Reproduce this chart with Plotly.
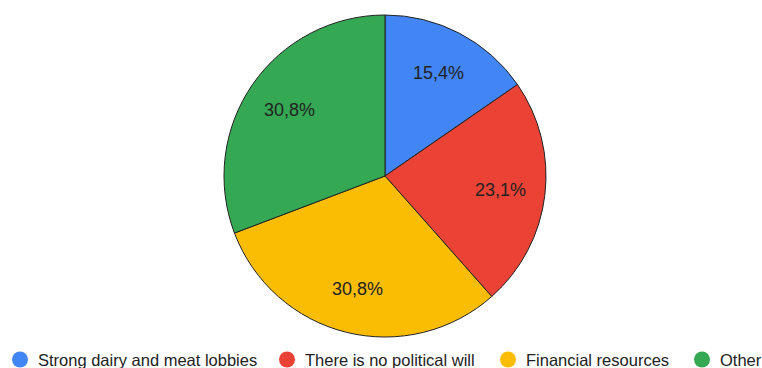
import math
import plotly.graph_objects as go

categories = ["Strong dairy and meat lobbies", "There is no political will",
              "Financial resources", "Other"]
counts = [2, 3, 4, 4]
colors = ["#4285F4", "#EA4335", "#FBBC04", "#34A853"]

W, H = 762, 368
FONT = "Liberation Sans, Arial, sans-serif"
TEXT = "#222222"

# Pie geometry in pixels
CX, CY, R = 385, 176, 161
LABEL_R = 0.72 * R

fig = go.Figure()
fig.add_trace(go.Pie(
    labels=categories,
    values=counts,
    sort=False,
    direction="clockwise",
    rotation=0,
    marker=dict(colors=colors, line=dict(color="#222222", width=1)),
    textinfo="none",
    domain=dict(x=[(CX - R) / W, (CX + R) / W], y=[1 - (CY + R) / H, 1 - (CY - R) / H]),
    showlegend=False,
    hoverinfo="label+percent",
))

# Percentage labels placed at each slice's mid-angle
total = sum(counts)
start = 0.0
for v in counts:
    frac = v / total
    mid = (start + frac / 2) * 2 * math.pi
    start += frac
    px = CX + LABEL_R * math.sin(mid)
    py = CY - LABEL_R * math.cos(mid)
    label = f"{frac * 100:.1f}".replace(".", ",") + "%"
    fig.add_annotation(x=px / W, y=1 - py / H, xref="paper", yref="paper",
                       text=label, showarrow=False, xanchor="center", yanchor="middle",
                       font=dict(family=FONT, size=18, color=TEXT))

# Legend row along the bottom: circle swatch followed by the category name
legend_x = [20, 287, 508, 702]
legend_py = 359.5
for cx, name, col in zip(legend_x, categories, colors):
    fig.add_shape(type="circle", xref="paper", yref="paper",
                  x0=(cx - 8) / W, x1=(cx + 8) / W,
                  y0=1 - (legend_py + 8) / H, y1=1 - (legend_py - 8) / H,
                  fillcolor=col, line=dict(width=0))
    fig.add_annotation(x=(cx + 17) / W, y=1 - legend_py / H, xref="paper", yref="paper",
                       text=name, showarrow=False, xanchor="left", yanchor="middle",
                       borderpad=0,
                       font=dict(family=FONT, size=16.5, color=TEXT))

fig.update_layout(
    width=W, height=H,
    margin=dict(l=0, r=0, t=0, b=0),
    paper_bgcolor="white",
    plot_bgcolor="white",
)

fig.write_html("out.html")
